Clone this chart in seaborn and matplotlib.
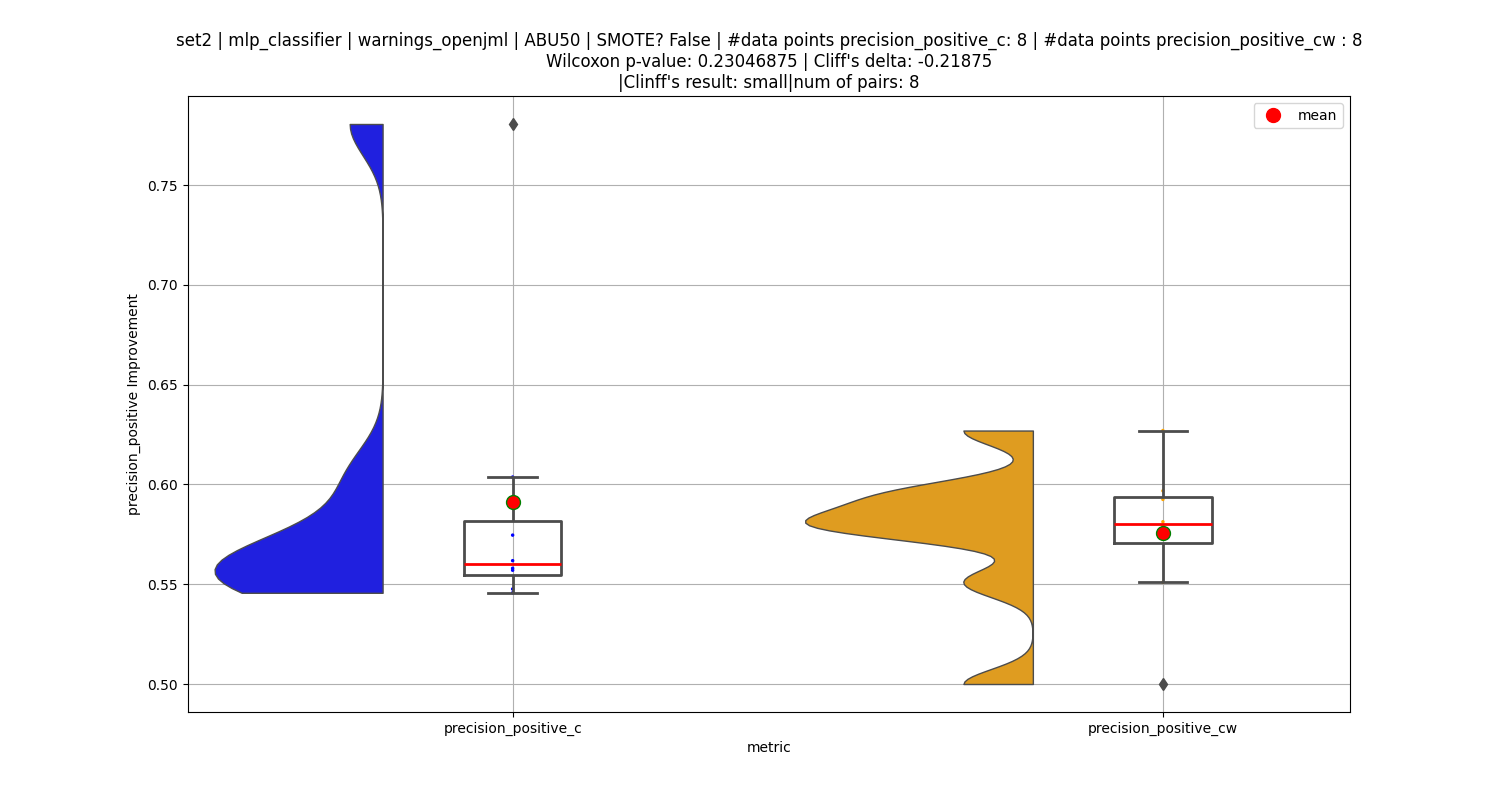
import matplotlib
matplotlib.use("Agg")
import matplotlib.pyplot as plt
import matplotlib.transforms as mtransforms
from matplotlib.lines import Line2D
import pandas as pd
import seaborn as sns

# values
metrics = ["precision_positive_c", "precision_positive_cw"]
vals_c = [0.5457, 0.5476, 0.5570, 0.5580, 0.5618, 0.5746, 0.6037, 0.7806]
vals_cw = [0.5000, 0.5510, 0.5774, 0.5795, 0.5813, 0.5925, 0.5968, 0.6270]
palette = ["blue", "orange"]

title = ("set2 | mlp_classifier | warnings_openjml | ABU50 | SMOTE? False | "
         "#data points precision_positive_c: 8 | #data points precision_positive_cw : 8\n"
         "Wilcoxon p-value: 0.23046875 | Cliff's delta: -0.21875\n"
         "|Clinff's result: small|num of pairs: 8")

df = pd.DataFrame({
    "metric": [metrics[0]] * len(vals_c) + [metrics[1]] * len(vals_cw),
    "value": vals_c + vals_cw,
})

fig, ax = plt.subplots(figsize=(15, 8), dpi=100)

# half violins ("cloud"); without hue seaborn puts the flat side at pos + width/2,
# so move it to sit 0.2 left of the box
viol_w = 0.35
sns.violinplot(data=df, x="metric", y="value", color="gray",
               split=True, inner=None, cut=0, bw_method=0.2, width=viol_w,
               density_norm="area", linewidth=1, linecolor="#4c4c4c", ax=ax)
shift = mtransforms.Affine2D().translate(-0.2 - viol_w / 2, 0) + ax.transData
for coll, col in zip(ax.collections, palette):
    coll.set_transform(shift)
    coll.set_facecolor(sns.desaturate(col, 0.75))

sns.boxplot(data=df, x="metric", y="value", width=0.15, fill=False,
            color="#4c4c4c", linewidth=2, showmeans=True,
            medianprops={"color": "red", "linewidth": 2},
            meanprops={"marker": "o", "markerfacecolor": "red",
                       "markeredgecolor": "green", "markersize": 10},
            flierprops={"marker": "d", "markerfacecolor": "#4c4c4c",
                        "markeredgecolor": "#4c4c4c", "markersize": 6},
            ax=ax)

# rain points, kept under the box lines
sns.stripplot(data=df, x="metric", y="value", hue="metric", palette=palette,
              jitter=False, size=2.5, legend=False, zorder=1.5, ax=ax)

ax.set_xlim(-0.5, 1.2877)
ax.grid(True, color="#b0b0b0")
ax.set_axisbelow(True)
ax.set_xlabel("metric")
ax.set_ylabel("precision_positive Improvement")
ax.set_title(title, fontsize=12)

mean_handle = Line2D([], [], marker="o", linestyle="none", color="red",
                     markersize=10, label="mean")
ax.legend(handles=[mean_handle], loc="upper right")

fig.savefig("out.png", dpi=100)
